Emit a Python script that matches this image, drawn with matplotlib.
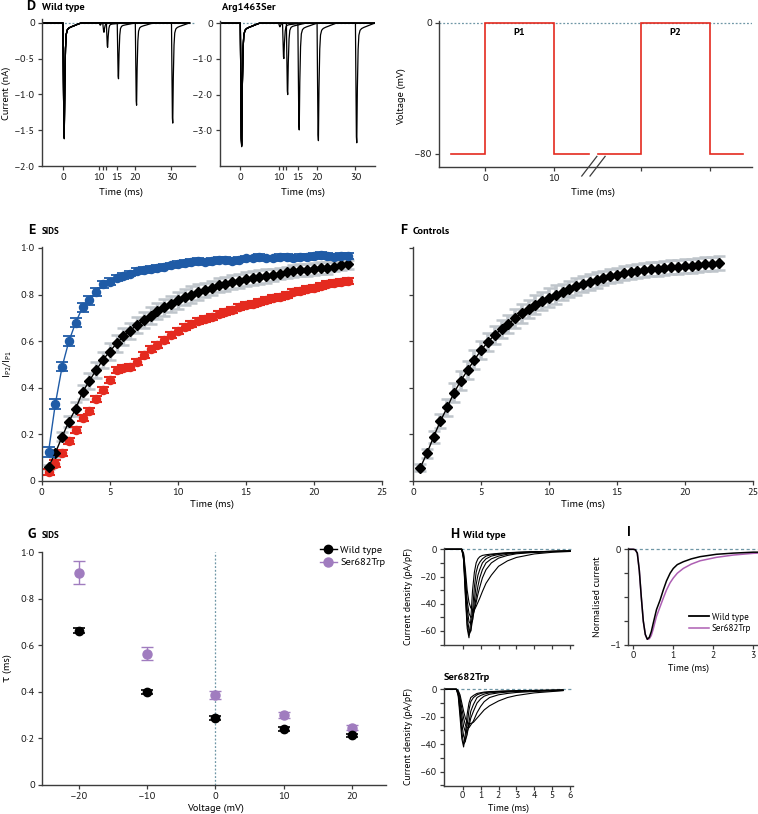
import numpy as np
import matplotlib
matplotlib.use('Agg')
import matplotlib.pyplot as plt
from matplotlib import font_manager
from matplotlib.lines import Line2D

# ---------------- fonts ----------------
_fl = font_manager.fontManager.ttflist
_avail = {f.name for f in _fl}
_bold = {f.name for f in _fl if f.weight in (700, 'bold')}
FONT = 'DejaVu Sans'
for fam in ['PT Sans', 'Fira Sans', 'Liberation Sans', 'DejaVu Sans']:
    if fam in _avail and fam in _bold:
        FONT = fam
        break
plt.rcParams['font.family'] = [FONT, 'DejaVu Sans']
plt.rcParams['mathtext.fontset'] = 'custom'
plt.rcParams['mathtext.rm'] = FONT
plt.rcParams['mathtext.it'] = FONT
plt.rcParams['mathtext.default'] = 'regular'

# ---------------- data ----------------
# Panel D: paired-pulse current traces
d_p2_times = [10, 11, 12, 15, 20, 30]
wt_p1_peaks = [-1.60, -1.58, -1.62, -1.56, -1.59, -1.61]
wt_p2_peaks = [-0.03, -0.13, -0.34, -0.78, -1.15, -1.40]
arg_p1_peaks = [-3.46, -3.40, -3.32, -3.42, -3.36, -3.44]
arg_p2_peaks = [-0.10, -0.99, -2.00, -2.99, -3.29, -3.35]
spike_dt = [0.0, 0.1, 0.25, 0.35, 0.5, 0.7, 0.9, 1.2, 1.6, 2.2, 3.0, 4.0, 5.0]
spike_frac = [0.0, 0.4, 0.95, 1.0, 0.55, 0.22, 0.10, 0.06, 0.045, 0.035, 0.025, 0.012, 0.0]
d_start, d_end = -5.3, 35.0

# Panel D: voltage protocol (two segments around axis break)
prot1_t = [-5.0, 0.0, 0.0, 10.0, 10.0, 15.1]
prot2_t = [16.4, 22.7, 22.7, 32.7, 32.7, 37.5]
prot_v = [-80, -80, 0, 0, -80, -80]

# Panels E and F: recovery from inactivation
rec_t = [0.5 * (i + 1) for i in range(45)]
e_blue = [0.125, 0.33, 0.49, 0.60, 0.68, 0.745, 0.775, 0.81, 0.845, 0.855,
          0.87, 0.88, 0.89, 0.90, 0.905, 0.91, 0.915, 0.92, 0.925, 0.93,
          0.935, 0.94, 0.945, 0.94, 0.945, 0.95, 0.95, 0.945, 0.95, 0.955,
          0.955, 0.96, 0.955, 0.955, 0.96, 0.96, 0.955, 0.96, 0.96, 0.965,
          0.97, 0.965, 0.96, 0.965, 0.965]
e_blue_err = [0.02, 0.02, 0.02, 0.02, 0.02, 0.02, 0.018, 0.016, 0.015, 0.014,
              0.013, 0.012, 0.012, 0.012, 0.012, 0.012, 0.012, 0.012, 0.012, 0.012,
              0.012, 0.012, 0.012, 0.012, 0.012, 0.012, 0.012, 0.012, 0.012, 0.012,
              0.012, 0.012, 0.012, 0.012, 0.012, 0.012, 0.012, 0.012, 0.012, 0.012,
              0.012, 0.012, 0.012, 0.012, 0.012]
e_black = [0.06, 0.12, 0.19, 0.255, 0.31, 0.38, 0.43, 0.475, 0.52, 0.555,
           0.59, 0.62, 0.645, 0.67, 0.69, 0.71, 0.73, 0.745, 0.76, 0.775,
           0.79, 0.80, 0.81, 0.82, 0.83, 0.84, 0.845, 0.855, 0.86, 0.865,
           0.87, 0.875, 0.88, 0.885, 0.89, 0.895, 0.90, 0.905, 0.905, 0.91,
           0.915, 0.915, 0.92, 0.925, 0.93]
e_black_err = [0.01, 0.015, 0.02, 0.025, 0.03, 0.03, 0.035, 0.035, 0.035, 0.035,
               0.035, 0.035, 0.035, 0.035, 0.035, 0.035, 0.035, 0.035, 0.035, 0.035,
               0.035, 0.035, 0.035, 0.03, 0.03, 0.03, 0.03, 0.03, 0.03, 0.03,
               0.03, 0.03, 0.03, 0.025, 0.025, 0.025, 0.025, 0.025, 0.025, 0.025,
               0.025, 0.025, 0.02, 0.02, 0.02]
e_red = [0.04, 0.075, 0.12, 0.17, 0.22, 0.27, 0.30, 0.35, 0.39, 0.435,
         0.478, 0.485, 0.49, 0.51, 0.54, 0.565, 0.585, 0.605, 0.625, 0.645,
         0.66, 0.675, 0.685, 0.695, 0.705, 0.715, 0.725, 0.735, 0.745, 0.755,
         0.76, 0.77, 0.775, 0.785, 0.79, 0.80, 0.81, 0.815, 0.825, 0.83,
         0.835, 0.845, 0.85, 0.855, 0.86]
e_red_err = [0.013] * 45
f_black = [0.056, 0.118, 0.19, 0.258, 0.316, 0.379, 0.43, 0.476, 0.52, 0.562,
           0.597, 0.627, 0.652, 0.674, 0.698, 0.72, 0.738, 0.756, 0.772, 0.786,
           0.80, 0.812, 0.824, 0.835, 0.845, 0.855, 0.863, 0.871, 0.878, 0.885,
           0.891, 0.897, 0.90, 0.904, 0.908, 0.911, 0.914, 0.917, 0.919, 0.921,
           0.924, 0.928, 0.93, 0.933, 0.935]
f_black_err = [0.015, 0.02, 0.025, 0.03, 0.035, 0.04, 0.04, 0.04, 0.04, 0.04,
               0.04, 0.04, 0.04, 0.04, 0.04, 0.04, 0.04, 0.04, 0.04, 0.04,
               0.04, 0.035, 0.035, 0.035, 0.035, 0.035, 0.035, 0.03, 0.03, 0.03,
               0.03, 0.03, 0.03, 0.03, 0.03, 0.03, 0.03, 0.03, 0.03, 0.03,
               0.03, 0.03, 0.03, 0.03, 0.03]

# Panel G: time constants
g_volt = [-20, -10, 0, 10, 20]
g_wt = [0.663, 0.400, 0.289, 0.240, 0.213]
g_wt_err = [0.012, 0.008, 0.008, 0.008, 0.008]
g_mut = [0.912, 0.564, 0.386, 0.300, 0.246]
g_mut_err = [0.049, 0.028, 0.016, 0.012, 0.012]

# Panel H: current density traces
h_t = [-1.0, -0.05, 0.05, 0.15, 0.25, 0.35, 0.45, 0.55, 0.65, 0.75, 0.85,
       0.95, 1.1, 1.3, 1.6, 2.0, 2.5, 3.0, 4.0, 5.0, 6.0]
h_wt = [
    [0, 0, -8, -35, -58, -65, -52, -30, -17, -10, -7, -5.5, -4.5, -4, -3.5, -3, -2.5, -2.2, -1.8, -1.5, -1.2],
    [0, 0, -7, -32, -55, -63, -60, -45, -28, -17, -12, -9.5, -7, -5, -4, -3.3, -2.7, -2.3, -1.8, -1.5, -1.2],
    [0, 0, -6, -28, -50, -59, -60, -52, -38, -26, -19, -15, -10, -7, -5, -3.8, -3, -2.5, -1.9, -1.5, -1.2],
    [0, 0, -5, -24, -44, -53, -55, -52, -44, -35, -27, -21, -15, -10, -7, -5, -3.6, -2.8, -2, -1.6, -1.3],
    [0, 0, -4, -20, -38, -47, -50, -49, -45, -39, -33, -28, -21, -15, -10, -6.5, -4.5, -3.3, -2.3, -1.7, -1.3],
    [0, 0, -3, -15, -30, -39, -43, -44.5, -44.5, -42, -39, -36, -31, -25, -19, -12.5, -8.5, -6, -3.4, -2.2, -1.6],
]
h_mt_t = [-1.0, -0.35, -0.25, -0.15, -0.05, 0.05, 0.15, 0.25, 0.35, 0.45, 0.6,
          0.8, 1.0, 1.2, 1.5, 2.0, 2.5, 3.0, 4.0, 5.0, 5.6]
h_mt = [
    [0, 0, -5, -20, -36, -42, -32, -18, -10, -6, -4.5, -3, -2.5, -2, -1.7, -1.4, -1.2, -1, -0.8, -0.6, -0.5],
    [0, 0, -4, -16, -31, -40, -38, -26, -15, -9, -6, -4, -3, -2.5, -2, -1.6, -1.3, -1.1, -0.9, -0.7, -0.5],
    [0, 0, -3, -12, -25, -34, -37, -33, -24, -16, -11, -6, -4.5, -3.5, -2.6, -2, -1.6, -1.3, -1, -0.8, -0.6],
    [0, 0, -2, -9, -19, -27, -31, -31, -27, -21, -16, -10, -7, -5, -3.6, -2.6, -2, -1.6, -1.2, -0.9, -0.7],
    [0, 0, -1.5, -6, -14, -21, -26, -28, -28, -26, -23, -17, -12.5, -9, -6, -4, -3, -2.3, -1.6, -1.1, -0.8],
    [0, 0, -1, -4, -10, -16, -21, -24, -25, -25, -24, -21, -18, -15, -12, -8.5, -6, -4.5, -2.6, -1.6, -1.0],
]

# Panel I: normalised currents
i_t = [-0.1, 0.0, 0.05, 0.1, 0.15, 0.2, 0.25, 0.3, 0.35, 0.4, 0.45, 0.5, 0.58,
       0.67, 0.75, 0.83, 0.92, 1.0, 1.1, 1.25, 1.45, 1.67, 2.08, 2.5, 3.0, 3.12]
i_wt = [0, 0, -0.005, -0.04, -0.22, -0.5, -0.75, -0.89, -0.94, -0.92, -0.86, -0.77,
        -0.63, -0.53, -0.425, -0.33, -0.25, -0.2, -0.16, -0.13, -0.1, -0.077,
        -0.052, -0.04, -0.03, -0.03]
i_mt = [0, 0, -0.005, -0.04, -0.22, -0.5, -0.75, -0.89, -0.94, -0.935, -0.9, -0.83,
        -0.7, -0.6, -0.51, -0.425, -0.35, -0.3, -0.25, -0.2, -0.155, -0.12,
        -0.084, -0.06, -0.042, -0.04]

# ---------------- styling helpers ----------------
W, H = 758, 814
fig = plt.figure(figsize=(W / 100, H / 100), dpi=100)
AX_C = '#3c3c3c'
DOT_C = '#6f97a6'
BLUE = '#1f5ba6'
RED = '#e42a1f'
GREY = '#bfc5cb'
PURPLE = '#a07cbf'
PURPLE_I = '#ad5fb3'
FS = 7.5
FS_S = 7.0


def add_ax(x0, x1, y0, y1, fs=FS):
    ax = fig.add_axes([x0 / W, 1 - y1 / H, (x1 - x0) / W, (y1 - y0) / H])
    for s in ['top', 'right']:
        ax.spines[s].set_visible(False)
    for s in ['left', 'bottom']:
        ax.spines[s].set_linewidth(1.0)
        ax.spines[s].set_color(AX_C)
    ax.tick_params(direction='out', length=3, width=0.9, color=AX_C,
                   labelsize=fs, pad=2, labelcolor='#1a1a1a')
    ax.tick_params(which='minor', direction='out', length=3, width=0.9, color=AX_C)
    ax.patch.set_alpha(0)
    return ax


def ftext(x, y, s, **kw):
    kw.setdefault('va', 'center')
    kw.setdefault('ha', 'left')
    fig.text(x / W, 1 - y / H, s, **kw)


def num(v, dec):
    s = f"{abs(v):.{dec}f}".replace('.', '\u00b7')
    if v == 0:
        return '0'
    return ('\u2013' if v < 0 else '') + s


def ylab(ax, text, xpix, ycen=None, fs=FS):
    bb = ax.get_position()
    x0 = bb.x0 * W
    w = bb.width * W
    ax.set_ylabel(text, fontsize=fs)
    yc = 0.5
    if ycen is not None:
        yc = ((1 - ycen / H) - bb.y0) / bb.height
    ax.yaxis.set_label_coords((xpix - x0) / w, yc)
    ax.yaxis.label.set_va('center')
    ax.yaxis.label.set_ha('center')


def xlab(ax, text, ypix, xcen=None, fs=FS):
    bb = ax.get_position()
    y0 = (1 - bb.y1) * H
    h = bb.height * H
    ax.set_xlabel(text, fontsize=fs)
    xc = 0.5
    if xcen is not None:
        xc = (xcen / W - bb.x0) / bb.width
    ax.xaxis.set_label_coords(xc, 1 - (ypix - y0) / h)
    ax.xaxis.label.set_va('center')


def sweep(p1, p2t, p2):
    t = [d_start] + [d for d in spike_dt] + [p2t + d for d in spike_dt] + [d_end]
    v = [0.0] + [p1 * f for f in spike_frac] + [p2 * f for f in spike_frac] + [0.0]
    return t, v


# ---------------- Panel D: wild type ----------------
ax = add_ax(42, 195, 19.4, 166)
ax.set_xlim(-5.8, 36.5)
ax.set_ylim(-2.0, 0.05)
ax.axhline(0, color=DOT_C, lw=0.9, ls=(0, (1.5, 1.5)), zorder=0)
for p1, p2t, p2 in zip(wt_p1_peaks, d_p2_times, wt_p2_peaks):
    t, v = sweep(p1, p2t, p2)
    ax.plot(t, v, color='black', lw=0.9)
ax.set_xticks([0, 10, 11, 12, 15, 20, 30])
ax.set_xticklabels(['0', '10', '', '', '15', '20', '30'])
yt = [0, -0.5, -1.0, -1.5, -2.0]
ax.set_yticks(yt)
ax.set_yticklabels([num(v, 1) for v in yt])
ylab(ax, 'Current (nA)', 6, 93)
xlab(ax, 'Time (ms)', 192, 121)

# ---------------- Panel D: Arg1463Ser ----------------
ax = add_ax(220, 375, 20.7, 166)
ax.set_xlim(-5.3, 35.1)
ax.set_ylim(-4.0, 0.07)
ax.axhline(0, color=DOT_C, lw=0.9, ls=(0, (1.5, 1.5)), zorder=0)
for p1, p2t, p2 in zip(arg_p1_peaks, d_p2_times, arg_p2_peaks):
    t, v = sweep(p1, p2t, p2)
    ax.plot(t, v, color='black', lw=0.9)
ax.set_xticks([0, 10, 11, 12, 15, 20, 30])
ax.set_xticklabels(['0', '10', '', '', '15', '20', '30'])
yt = [0, -1.0, -2.0, -3.0]
ax.set_yticks(yt)
ax.set_yticklabels([num(v, 1) for v in yt])
xlab(ax, 'Time (ms)', 192, 303)

# ---------------- Panel D: voltage protocol ----------------
ax = add_ax(439.3, 751.7, 20.7, 166.7)
ax.set_xlim(-6.7, 38.8)
ax.set_ylim(-87.8, 1.4)
ax.axhline(0, color=DOT_C, lw=0.9, ls=(0, (1.5, 1.5)), zorder=0)
ax.plot(prot1_t, prot_v, color=RED, lw=1.2, solid_joinstyle='miter')
ax.plot(prot2_t, prot_v, color=RED, lw=1.2, solid_joinstyle='miter')
ax.text((prot1_t[2] + prot1_t[3]) / 2, -6, 'P1', ha='center', va='center',
        fontsize=FS, fontweight='bold')
ax.text((prot2_t[2] + prot2_t[3]) / 2, -6, 'P2', ha='center', va='center',
        fontsize=FS, fontweight='bold')
ax.set_xticks([0, 10, prot2_t[2], prot2_t[3]])
ax.set_xticklabels(['0', '10', '', ''])
ax.set_yticks([0, -80])
ax.set_yticklabels(['0', '\u201380'])
ylab(ax, 'Voltage (mV)', 401, 97)
xlab(ax, 'Time (ms)', 192, 593)
# axis break marks
gap_mid = (prot1_t[-1] + prot2_t[0]) / 2
for dx in (-0.6, 0.6):
    ax.plot([gap_mid + dx - 1.1, gap_mid + dx + 1.1], [-93.5, -81.5],
            color=AX_C, lw=0.9, clip_on=False)

# ---------------- Panel E ----------------
ax = add_ax(41.7, 381.7, 247, 481)
ax.set_xlim(0, 25)
ax.set_ylim(0, 1.004)
ax.errorbar(rec_t, e_black, yerr=e_black_err, fmt='none', ecolor=GREY,
            elinewidth=2.4, capsize=4, capthick=1.8, zorder=1)
ax.errorbar(rec_t, e_red, yerr=e_red_err, fmt='none', ecolor=RED,
            elinewidth=1.3, capsize=4, capthick=1.5, zorder=2)
ax.plot(rec_t, e_red, 'o', color=RED, ms=5.8, mec=RED, zorder=3)
ax.plot(rec_t, e_black, '-', color='black', lw=1.0, zorder=4)
ax.plot(rec_t, e_black, 'D', color='black', ms=5.0, zorder=4)
ax.errorbar(rec_t, e_blue, yerr=e_blue_err, fmt='none', ecolor=BLUE,
            elinewidth=1.0, capsize=4, capthick=1.3, zorder=5)
ax.plot(rec_t, e_blue, '-', color=BLUE, lw=1.0, zorder=6)
ax.plot(rec_t, e_blue, 'o', color=BLUE, ms=5.8, zorder=6)
ax.set_xticks([0, 5, 10, 15, 20, 25])
ax.set_xticklabels(['0', '5', '10', '15', '20', '25'])
yt = [0, 0.2, 0.4, 0.6, 0.8, 1.0]
ax.set_yticks(yt)
ax.set_yticklabels([num(v, 1) for v in yt])
ylab(ax, 'I$_{P2}$/I$_{P1}$', 7)
xlab(ax, 'Time (ms)', 504)

# ---------------- Panel F ----------------
ax = add_ax(413.3, 752.7, 247, 481)
ax.set_xlim(0, 25)
ax.set_ylim(0, 1.004)
ax.errorbar(rec_t, f_black, yerr=f_black_err, fmt='none', ecolor=GREY,
            elinewidth=2.6, capsize=4, capthick=1.8, zorder=1)
ax.plot(rec_t, f_black, '-', color='black', lw=1.0, zorder=4)
ax.plot(rec_t, f_black, 'D', color='black', ms=5.0, zorder=4)
ax.set_xticks([0, 5, 10, 15, 20, 25])
ax.set_xticklabels(['0', '5', '10', '15', '20', '25'])
ax.set_yticks(yt)
ax.set_yticklabels([])
xlab(ax, 'Time (ms)', 504)

# ---------------- Panel G ----------------
ax = add_ax(41.7, 386, 552, 785)
ax.set_xlim(-25.4, 25.0)
ax.set_ylim(0, 1.0)
ax.plot([0, 0], [0, 1.0], color=DOT_C, lw=0.9, ls=(0, (1.5, 1.5)), zorder=0)
ax.errorbar(g_volt, g_mut, yerr=g_mut_err, fmt='o', color=PURPLE, ms=6.5,
            elinewidth=1.0, capsize=4.5, capthick=1.0, zorder=3)
ax.errorbar(g_volt, g_wt, yerr=g_wt_err, fmt='o', color='black', ms=6,
            elinewidth=1.0, capsize=4, capthick=1.2, zorder=4)
ax.set_xticks(g_volt)
ax.set_xticklabels([num(v, 0) for v in g_volt])
ax.set_yticks(yt)
ax.set_yticklabels([num(v, 1) for v in yt])
ylab(ax, '\u03c4 (ms)', 8.5)
xlab(ax, 'Voltage (mV)', 808, 215)
handles = [Line2D([], [], color='black', marker='o', ms=6, lw=1.0),
           Line2D([], [], color=PURPLE, marker='o', ms=6.5, lw=1.0)]
ax.legend(handles, ['Wild type', 'Ser682Trp'], loc='upper left',
          bbox_to_anchor=(320 / W, 1 - 545.5 / H), bbox_transform=fig.transFigure,
          frameon=False, fontsize=FS, handlelength=1.6, handletextpad=0.35,
          borderpad=0, borderaxespad=0, labelspacing=0.3)

# ---------------- Panel H ----------------
axh1 = add_ax(444, 573, 548, 645, fs=FS_S)
axh2 = add_ax(444, 573, 688, 785.7, fs=FS_S)
for axx, tt, traces, yl in [(axh1, h_t, h_wt, (-70.3, 0.95)),
                            (axh2, h_mt_t, h_mt, (-70.2, 0.95))]:
    axx.set_xlim(-1.045, 6.16)
    axx.set_ylim(*yl)
    axx.axhline(0, color=DOT_C, lw=0.9, ls=(0, (2.5, 2)), zorder=0)
    for tr in traces:
        axx.plot(tt, tr, color='black', lw=0.8)
    axx.set_xticks([0, 1, 2, 3, 4, 5, 6])
    axx.set_yticks([0, -20, -40, -60])
    axx.set_yticklabels([num(v, 0) for v in [0, -20, -40, -60]])
    axx.set_yticks([-10, -30, -50, -70], minor=True)
    ylab(axx, 'Current density (pA/pF)', 408, fs=FS_S)
axh1.set_xticklabels([])
axh2.set_xticklabels(['0', '1', '2', '3', '4', '5', '6'])
axh2.tick_params(axis='x', pad=1)
xlab(axh2, 'Time (ms)', 808, 508, fs=FS_S)

# ---------------- Panel I ----------------
ax = add_ax(628.3, 758, 548, 645, fs=FS_S)
ax.set_xlim(-0.125, 3.118)
ax.set_ylim(-1.0, 0.0136)
ax.axhline(0, color=DOT_C, lw=0.9, ls=(0, (2.5, 2)), zorder=0)
ax.plot(i_t, i_mt, color=PURPLE_I, lw=1.1, zorder=2)
ax.plot(i_t, i_wt, color='black', lw=1.1, zorder=3)
ax.set_xticks([0, 1, 2, 3])
ax.set_xticklabels(['0', '1', '2', '3'])
ax.tick_params(axis='x', pad=1)
ax.set_yticks([0, -0.25, -0.5, -0.75, -1.0])
ax.set_yticklabels(['0', '', '', '', '\u20131'])
ylab(ax, 'Normalised current', 598, fs=FS_S)
xlab(ax, 'Time (ms)', 668, 688, fs=FS_S)
ax.legend([Line2D([], [], color='black', lw=1.3), Line2D([], [], color=PURPLE_I, lw=1.1)],
          ['Wild type', 'Ser682Trp'], loc='upper left',
          bbox_to_anchor=(689 / W, 1 - 612.5 / H), bbox_transform=fig.transFigure,
          frameon=False, fontsize=6.5, handlelength=2.2, handletextpad=0.3,
          borderpad=0, borderaxespad=0, labelspacing=0.3)

# ---------------- panel titles ----------------
LET = dict(fontsize=10, fontweight='bold')
TIT = dict(fontsize=FS, fontweight='bold')
ftext(26, 7, 'D', **LET)
ftext(42, 7, 'Wild type', **TIT)
ftext(222, 7, 'Arg1463Ser', **TIT)
ftext(28, 231, 'E', **LET)
ftext(42, 232, 'SIDS', fontsize=6.5, fontweight='bold')
ftext(400, 231, 'F', **LET)
ftext(413, 232, 'Controls', **TIT)
ftext(28, 535, 'G', **LET)
ftext(42, 536, 'SIDS', fontsize=6.5, fontweight='bold')
ftext(450, 535, 'H', **LET)
ftext(463, 535, 'Wild type', **TIT)
ftext(444, 677, 'Ser682Trp', **TIT)
ftext(627, 533, 'I', **LET)

fig.savefig('out.png', dpi=100)
